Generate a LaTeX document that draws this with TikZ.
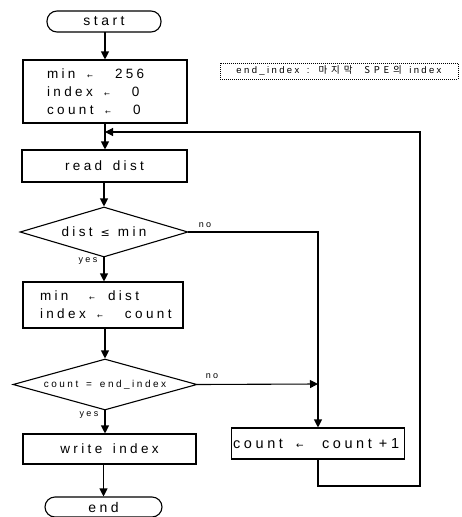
\documentclass[tikz,border=0pt]{standalone}
\usepackage{fontspec}
\setmainfont{Liberation Sans}[LetterSpace=25, WordSpace=1.5]
\newfontfamily\symfont{DejaVu Sans}[LetterSpace=0]
\newfontfamily\kofont{Noto Sans CJK KR}[LetterSpace=40, WordSpace=2]
\usetikzlibrary{arrows.meta,shapes.geometric}

% small assignment arrow
\newcommand{\asg}{{\symfont\fontsize{7}{8}\selectfont ←}}
% place a piece of text at a fixed horizontal offset inside a line
\newcommand{\at}[2]{\makebox[0pt][l]{#2}\hspace{#1}}

\tikzset{
  flow/.style={line width=1.1pt, line cap=rect},
  arr/.style={flow, -{Triangle[length=8pt,width=8pt]}},
  box/.style={draw, line width=1.1pt, rectangle, inner sep=0pt,
    font=\fontsize{13.5}{18}\selectfont},
  term/.style={draw, line width=1.1pt, rectangle, rounded corners=10pt,
    inner sep=0pt, font=\fontsize{14}{16}\selectfont},
  decide/.style={draw, line width=1.1pt, diamond, inner sep=0pt},
  lbl/.style={inner sep=0pt, font=\fontsize{9}{10}\selectfont},
  note/.style={draw, densely dotted, line width=1pt, rectangle, inner sep=0pt,
    font=\fontsize{9.5}{10}\selectfont},
}

\begin{document}
\begin{tikzpicture}[x=1pt, y=-1pt]
\useasboundingbox (0,0) rectangle (462,517);

% main column
\node[term, minimum width=114, minimum height=21] (start) at (104,21.5) {start};

\node[box, minimum width=164, minimum height=63, text width=116, align=left,
  inner xsep=24pt] (init) at (105,91.5)
  {\mbox{\at{43pt}{min}\at{25pt}{\makebox[0pt][c]{\asg}}256}\\
   \mbox{\at{60pt}{index}\at{25pt}{\makebox[0pt][c]{\asg}}0}\\
   \mbox{\at{61pt}{count}\at{25pt}{\makebox[0pt][c]{\asg}}0}};

\node[box, minimum width=165, minimum height=32] (read) at (104.5,166) {read dist};

\node[decide, minimum width=168, minimum height=50, aspect=3.36,
  font=\fontsize{13.5}{16}\selectfont] (dec1) at (104,232)
  {dist\hspace{8pt}{\symfont\fontsize{11}{12}\selectfont ≤}\hspace{8pt}min};

\node[box, minimum width=160, minimum height=46, text width=126, align=left,
  inner xsep=17pt] (assign) at (103,305)
  {\mbox{\at{52pt}{min}\at{16pt}{\makebox[0pt][c]{\asg}}dist}\\
   \mbox{\at{60pt}{index}\at{25pt}{\makebox[0pt][c]{\asg}}count}};

\node[decide, minimum width=184, minimum height=51, aspect=3.6,
  font=\fontsize{10}{12}\selectfont] (dec2) at (105,384.5)
  {count = end\_index};

\node[box, minimum width=173, minimum height=30] (write) at (109.5,449) {write index};

\node[term, minimum width=117, minimum height=20] (end) at (103.5,507) {end};

% increment step on the right
\node[box, minimum width=173, minimum height=31, text width=170, align=left,
  inner xsep=1.5pt, font=\fontsize{14.5}{16}\selectfont] (incr) at (318,443.5)
  {\mbox{\at{67pt}{count}\at{22pt}{\makebox[0pt][c]{\symfont\fontsize{9}{10}\selectfont ←}}\at{57pt}{count}+1}};

% side note
\node[note, minimum width=238, minimum height=16] (note) at (339,71)
  {end\_index : {\kofont 마지막 SPE의} index};

% branch labels
\node[lbl] (no1) at (205,225) {no};
\node[lbl] (yes1) at (88,261) {yes};
\node[lbl] (no2) at (212,376) {no};
\node[lbl] (yes2) at (89,415) {yes};

% junction points
\coordinate (j1) at (318,232);
\coordinate (j2) at (318,384);
\coordinate (back) at (105,132);
\coordinate (lb) at (318,486);
\coordinate (rb) at (420,486);
\coordinate (rt) at (420,132);

% connectors
\draw[arr] (start.south -| init.north) -- (init.north);
\draw[arr] (init.south) -- (read.north -| init.south);
\draw[arr] (read.south -| dec1.north) -- (dec1.north);
\draw[arr] (dec1.south) -- (assign.north -| dec1.south);
\draw[arr] (assign.south -| dec2.north) -- (dec2.north);
\draw[arr] (dec2.south) -- (write.north -| dec2.south);
\draw[arr] (write.south -| end.north) -- (end.north);
\draw[flow] (dec1.east) -- (j1);
\draw[arr] (j1) -- (incr.north -| j1);
\draw[arr] (dec2.east) -- (j2);
\draw[arr] (incr.south -| lb) -- (lb) -- (rb) -- (rt) -- (back);
\end{tikzpicture}
\end{document}
